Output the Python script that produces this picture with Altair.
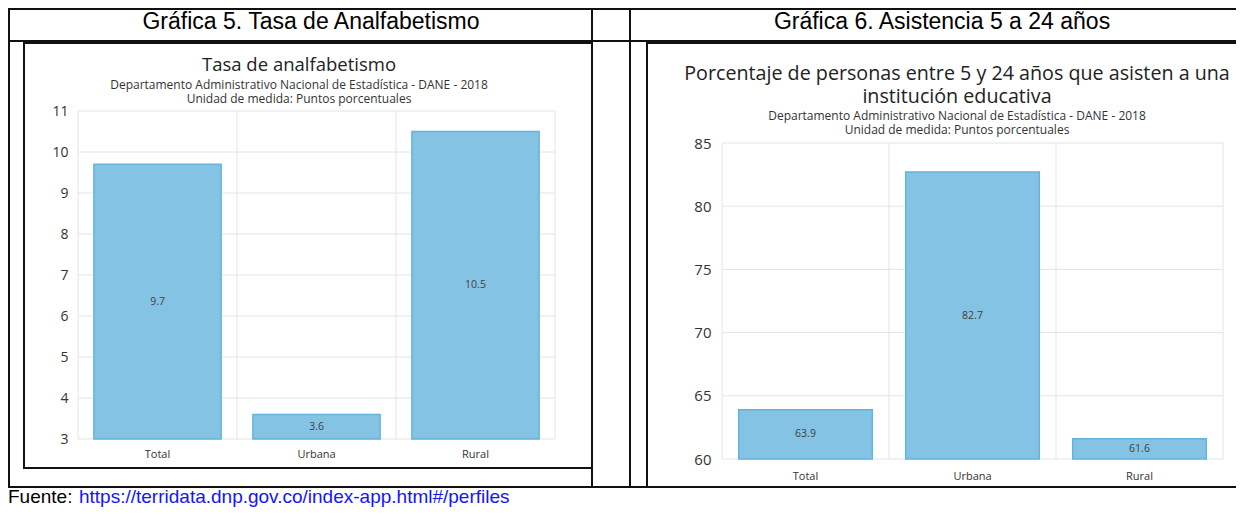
import altair as alt
import pandas as pd

# ---------------- data ----------------
categories = ["Total", "Urbana", "Rural"]
illiteracy = [9.7, 3.6, 10.5]
attendance = [63.9, 82.7, 61.6]
ill_domain = [3, 11]
ill_ticks = [3, 4, 5, 6, 7, 8, 9, 10, 11]
att_domain = [60, 85]
att_ticks = [60, 65, 70, 75, 80, 85]

header_left = "Gráfica 5. Tasa de Analfabetismo"
header_right = "Gráfica 6. Asistencia 5 a 24 años"
title_left = ["Tasa de analfabetismo"]
title_right = ["Porcentaje de personas entre 5 y 24 años que asisten a una",
               "institución educativa"]
subtitle_lines = ["Departamento Administrativo Nacional de Estadística - DANE - 2018",
                  "Unidad de medida: Puntos porcentuales"]
source_label = "Fuente:"
source_url = "https://terridata.dnp.gov.co/index-app.html#/perfiles"

# ---------------- style / layout (page pixels) ----------------
FILL = "#85C3E4"
EDGE = "#63B4DD"
GRID = "#E4E4E4"
CHART_FONT = "Open Sans"
DOC_FONT = "Liberation Sans"
LINE = "#111111"
W, H = 1228, 499          # whole drawing, starts at page (8, 8)
M = 8                     # page margin

one = pd.DataFrame({"k": [0]})


def hline(x1, x2, y, w=2):
    return alt.Chart(one).mark_rect(color=LINE).encode(
        x=alt.value(x1 - M), x2=alt.value(x2 - M),
        y=alt.value(y - M), y2=alt.value(y + w - M))


def vline(x, y1, y2, w=2):
    return alt.Chart(one).mark_rect(color=LINE).encode(
        x=alt.value(x - M), x2=alt.value(x + w - M),
        y=alt.value(y1 - M), y2=alt.value(y2 - M))


def text_at(x, y, txt, size, color="black", align="center", font=DOC_FONT):
    return alt.Chart(one).mark_text(font=font, fontSize=size, color=color,
                                    align=align, baseline="alphabetic").encode(
        x=alt.value(x - M), y=alt.value(y - M), text=alt.value(txt))


def title_block(cx, title_lines, title_size, title_baselines, sub_baselines):
    marks = []
    for line, yb in zip(title_lines, title_baselines):
        marks.append(text_at(cx, yb, line, title_size, "#222222", font=CHART_FONT))
    for line, yb in zip(subtitle_lines, sub_baselines):
        marks.append(text_at(cx, yb, line, 12, "#333333", font=CHART_FONT))
    return marks


def panel(values, domain, ticks, x0, x1, y0, y1, ylab_size, ylab_pad, xlab_pad):
    """Bar panel whose plot area spans page x0..x1, y0(top)..y1(bottom)."""
    df = pd.DataFrame({"cat": categories, "val": values})
    xs = alt.Scale(domain=categories, range=[x0 - M, x1 - M],
                   paddingInner=0, paddingOuter=0)
    ys = alt.Scale(domain=domain, range=[y1 - M, y0 - M], nice=False, zero=False)
    x_axis = alt.Axis(title=None, orient="bottom", labelAngle=0, ticks=False,
                      domain=False, grid=False, labelFont=CHART_FONT,
                      labelFontSize=11, labelColor="#333333",
                      labelPadding=xlab_pad, offset=(y1 - M) - H)
    y_axis = alt.Axis(values=ticks, title=None, orient="left", ticks=False,
                      domain=False, grid=False, labelFont=CHART_FONT,
                      labelFontSize=ylab_size, labelColor="#333333",
                      labelPadding=ylab_pad, offset=-(x0 - M))

    hgrid = alt.Chart(pd.DataFrame({"val": ticks})).mark_rule(
        color=GRID, strokeWidth=1).encode(
        y=alt.Y("val:Q", scale=ys, axis=y_axis),
        x=alt.value(x0 - M), x2=alt.value(x1 - M))
    vgrid = alt.Chart(pd.DataFrame({"cat": categories})).mark_rule(
        color=GRID, strokeWidth=1).encode(
        x=alt.X("cat:N", scale=xs, bandPosition=0, axis=x_axis),
        y=alt.Y(datum=domain[1], scale=ys, axis=y_axis),
        y2=alt.Y2(datum=domain[0]))
    vgrid_end = alt.Chart(pd.DataFrame({"cat": categories[-1:]})).mark_rule(
        color=GRID, strokeWidth=1).encode(
        x=alt.X("cat:N", scale=xs, bandPosition=1, axis=x_axis),
        y=alt.Y(datum=domain[1], scale=ys, axis=y_axis),
        y2=alt.Y2(datum=domain[0]))

    bars = alt.Chart(df).mark_bar(width=alt.RelativeBandSize(0.8), color=FILL,
                                  stroke=EDGE, strokeWidth=1.5).encode(
        x=alt.X("cat:N", scale=xs, axis=x_axis),
        y=alt.Y("val:Q", scale=ys, axis=y_axis),
        y2=alt.Y2(datum=domain[0]),
    )
    labels = alt.Chart(df).transform_calculate(
        mid=f"(datum.val + {domain[0]}) / 2"
    ).mark_text(font=CHART_FONT, fontSize=10.5, color="#404040").encode(
        x=alt.X("cat:N", scale=xs, axis=x_axis),
        y=alt.Y("mid:Q", scale=ys, axis=y_axis),
        text=alt.Text("val:Q", format=".1f"),
    )
    return alt.layer(hgrid, vgrid, vgrid_end, bars, labels)


left = panel(illiteracy, ill_domain, ill_ticks, 78, 555, 111, 439, 14, 10, 9)
right = panel(attendance, att_domain, att_ticks, 722, 1223, 143, 459, 15, 11, 11)

decor = [
    # table grid
    hline(8, 1244, 8), hline(8, 1244, 40), hline(8, 1244, 486),
    vline(8, 8, 488), vline(591, 8, 488), vline(629, 8, 488),
    # chart picture frames
    vline(23, 42, 469), hline(23, 593, 42), hline(23, 593, 467),
    vline(646, 42, 488), hline(646, 1244, 42),
    # header cells
    text_at(311, 29, header_left, 23),
    text_at(942, 29, header_right, 23),
    # source line
    text_at(8, 503, source_label, 19, align="left"),
    text_at(79, 503, source_url, 19, color="#1414FF", align="left"),
]
decor += title_block(299, title_left, 18.5, [71], [89, 103])
decor += title_block(957, title_right, 19.7, [80, 103], [120, 134])

chart = alt.layer(left, right, *decor).resolve_scale(
    x="independent", y="independent"
).resolve_axis(
    x="independent", y="independent"
).properties(
    width=W, height=H, padding=0,
    autosize=alt.AutoSizeParams(type="none"),
).configure_view(stroke="transparent")

chart.save("out.html", embed_options={"renderer": "svg", "actions": False})
